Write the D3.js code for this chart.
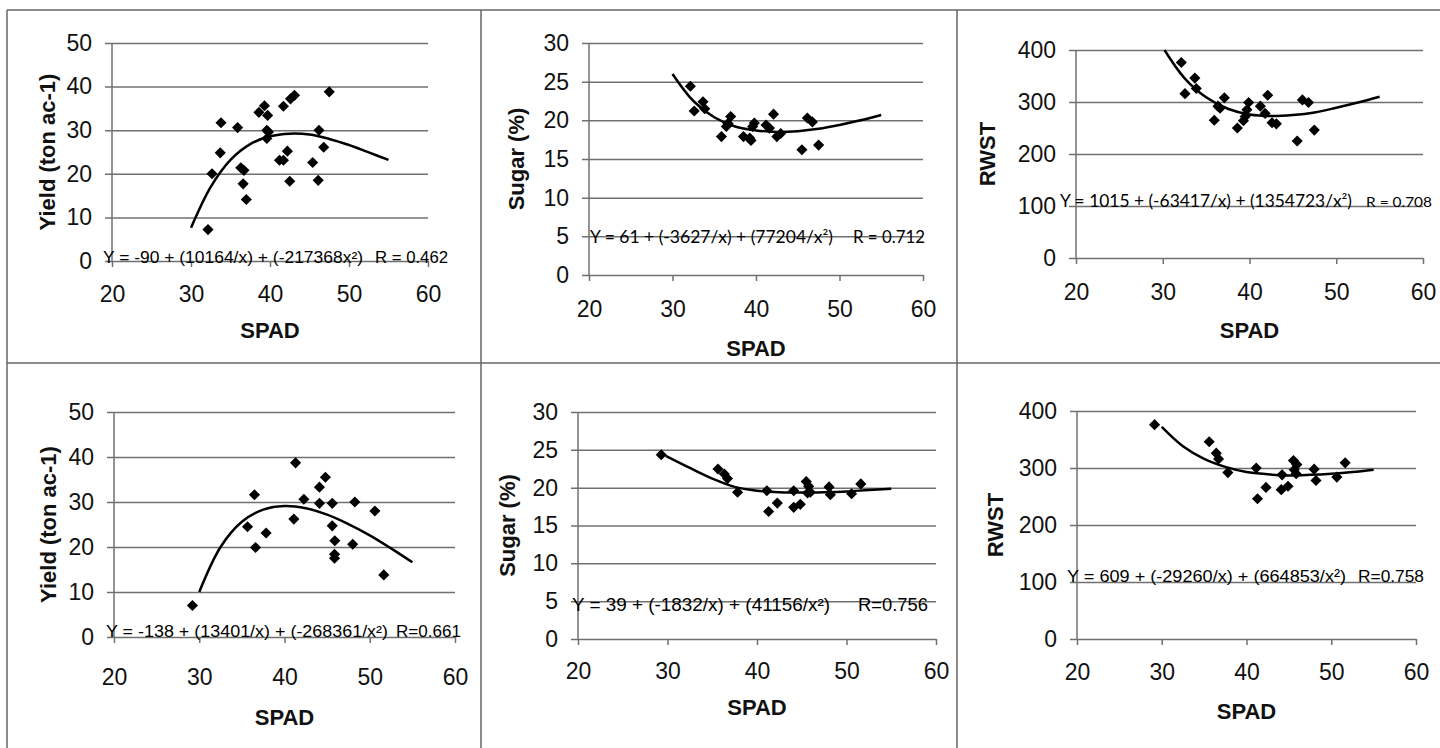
<!DOCTYPE html>
<html>
<head>
<meta charset="utf-8">
<script src="https://cdn.jsdelivr.net/npm/d3@7"></script>
<style>
  body { margin: 0; background: #fff; }
  svg { display: block; }
</style>
</head>
<body>
<script>
// ---- data ----
const xTicks = [20, 30, 40, 50, 60];
const yTitles = ["Yield (ton ac-1)", "Sugar (%)", "RWST", "Yield (ton ac-1)", "Sugar (%)", "RWST"];
const eqFormulas = [
  "Y = -90 + (10164/x) + (-217368x\u00B2)",
  "Y = 61 + (-3627/x) + (77204/x\u00B2)",
  "Y = 1015 + (-63417/x) + (1354723/x\u00B2)",
  "Y = -138 + (13401/x) + (-268361/x\u00B2)",
  "Y = 39 + (-1832/x) + (41156/x\u00B2)",
  "Y = 609 + (-29260/x) + (664853/x\u00B2)"
];
const eqR = ["R = 0.462", "R = 0.712", "R = 0.708", "R=0.661", "R=0.756", "R=0.758"];

// top row
const yieldTopSpad = [32.15, 32.66, 33.7, 33.8, 35.9, 36.3, 36.7, 36.6, 37.0, 38.6, 39.3, 39.7, 39.6, 39.8, 39.6, 41.2, 41.7, 42.2, 41.7, 42.6, 43.1, 42.5, 45.4, 46.2, 46.8, 46.1, 47.5];
const yieldTop = [7.2, 20.0, 24.8, 31.7, 30.6, 21.4, 20.8, 17.7, 14.1, 34.1, 35.6, 33.4, 30.0, 29.6, 28.1, 23.1, 23.1, 25.2, 35.5, 37.2, 38.0, 18.3, 22.6, 30.0, 26.1, 18.5, 38.8];
const sugarTopSpad = [32.14, 32.6, 33.65, 33.86, 35.86, 36.45, 36.65, 36.97, 38.5, 39.25, 39.4, 39.6, 39.8, 41.2, 41.6, 42.1, 42.5, 42.96, 45.5, 46.15, 46.75, 47.5];
const sugarTop = [24.4, 21.2, 22.4, 21.5, 17.9, 19.2, 19.6, 20.5, 17.9, 17.7, 17.4, 19.2, 19.65, 19.4, 19.0, 20.8, 17.9, 18.3, 16.2, 20.3, 19.8, 16.8];
const rwstTopSpad = [32.14, 32.56, 33.7, 33.87, 35.94, 36.37, 36.6, 37.1, 38.6, 39.3, 39.5, 39.7, 39.9, 41.25, 41.8, 42.1, 42.6, 43.1, 45.5, 46.1, 46.8, 47.47];
const rwstTop = [376, 316, 346, 326, 265, 292, 288, 308, 250, 264, 272, 285, 299, 292, 278, 313, 260, 258, 225, 304, 299, 246];

// bottom row
const yieldBotSpad = [29.2, 35.66, 36.48, 36.6, 37.84, 41.1, 41.3, 42.27, 44.1, 44.1, 44.8, 45.6, 45.6, 45.9, 45.87, 45.87, 48.0, 48.25, 50.6, 51.65];
const yieldBot = [7.0, 24.5, 31.6, 19.9, 23.1, 26.2, 38.7, 30.6, 33.3, 29.7, 35.5, 29.7, 24.7, 21.4, 18.4, 17.5, 20.6, 30.0, 28.0, 13.8];
const sugarBotSpad = [29.3, 35.64, 36.35, 36.7, 37.83, 41.1, 41.3, 42.27, 44.1, 44.1, 44.84, 45.5, 45.77, 45.96, 45.65, 48.05, 48.2, 50.57, 51.6];
const sugarBot = [24.35, 22.46, 21.8, 21.2, 19.4, 19.6, 16.85, 17.96, 19.6, 17.4, 17.8, 20.8, 20.2, 19.4, 19.3, 20.1, 19.06, 19.2, 20.5];
const rwstBotSpad = [29.15, 35.6, 36.43, 36.7, 37.8, 41.15, 41.3, 42.3, 44.2, 44.1, 44.9, 45.54, 45.94, 45.63, 45.86, 47.98, 48.2, 50.66, 51.64];
const rwstBot = [376, 346, 326, 316, 292, 300, 246, 266, 288, 262, 268, 313, 306, 297, 290, 298, 278, 284, 309];

// fitted curves
const fitSpad = [30, 32.5, 35, 37.5, 40, 42.5, 45, 47.5, 50, 52.5, 55];
const fitSpadRwstTop = [30.2, 32.5, 35, 37.5, 40, 42.5, 45, 47.5, 50, 52.5, 55];
const fitSpadSugarBot = [29.8, 32.5, 35, 37.5, 40, 42.5, 45, 47.5, 50, 52.5, 55];
const yieldTopFit = [7.6, 17.0, 23.2, 26.8, 28.6, 29.2, 29.0, 28.0, 26.6, 24.9, 23.2];
const sugarTopFit = [26.0, 22.5, 20.4, 19.2, 18.7, 18.5, 18.6, 18.9, 19.4, 20.0, 20.7];
const rwstTopFit = [400, 346, 309, 287, 276, 273, 275, 280, 289, 299, 310];
const yieldBotFit = [10.0, 20.0, 25.6, 28.3, 29.1, 28.6, 27.2, 25.1, 22.6, 19.7, 16.6];
const sugarBotFit = [24.2, 22.6, 21.2, 20.1, 19.6, 19.4, 19.35, 19.4, 19.5, 19.7, 19.85];
const rwstBotFit = [372, 338, 316, 302, 293, 289, 287, 288, 290, 293, 297];

// ---- layout ----
const arial = "'Liberation Sans', Arial, sans-serif";
const calibriLike = "Lato, 'Open Sans', sans-serif";
const gridColor = "#707070";
const borderColor = "#666";
const tickFont = 23;

const panels = [
  { spad: yieldTopSpad, vals: yieldTop, fitX: fitSpad, fit: yieldTopFit, yMax: 50, yStep: 10,
    x0: 112, x1: 428, y0: 261, yTop: 43, xPad: 19, spadY: 330, titleX: 47,
    eqFont: arial, eqSize: 16, rSize: 16, eqPos: [103, 363, 375, 448], eqBase: 263 },
  { spad: sugarTopSpad, vals: sugarTop, fitX: fitSpad, fit: sugarTopFit, yMax: 30, yStep: 5,
    x0: 589, x1: 923, y0: 275, yTop: 43, xPad: 20, spadY: 348, titleX: 516,
    eqFont: calibriLike, eqSize: 17, rSize: 17, eqPos: [590, 833, 853, 925], eqBase: 243 },
  { spad: rwstTopSpad, vals: rwstTop, fitX: fitSpadRwstTop, fit: rwstTopFit, yMax: 400, yStep: 100,
    x0: 1076, x1: 1423, y0: 258, yTop: 50, xPad: 20, spadY: 330, titleX: 987,
    eqFont: calibriLike, eqSize: 17, rSize: 14, eqPos: [1060, 1352, 1366, 1432], eqBase: 207 },
  { spad: yieldBotSpad, vals: yieldBot, fitX: fitSpad, fit: yieldBotFit, yMax: 50, yStep: 10,
    x0: 114, x1: 455, y0: 637, yTop: 412, xPad: 26, spadY: 717, titleX: 48,
    eqFont: arial, eqSize: 16, rSize: 16, eqPos: [106, 388, 396, 461], eqBase: 637 },
  { spad: sugarBotSpad, vals: sugarBot, fitX: fitSpadSugarBot, fit: sugarBotFit, yMax: 30, yStep: 5,
    x0: 578, x1: 936, y0: 639, yTop: 412, xPad: 18, spadY: 707, titleX: 507,
    eqFont: arial, eqSize: 18, rSize: 18, eqPos: [572, 830, 858, 928], eqBase: 611 },
  { spad: rwstBotSpad, vals: rwstBot, fitX: fitSpad, fit: rwstBotFit, yMax: 400, yStep: 100,
    x0: 1077, x1: 1416, y0: 639, yTop: 411, xPad: 19, spadY: 711, titleX: 995,
    eqFont: arial, eqSize: 17, rSize: 17, eqPos: [1067, 1346, 1358, 1424], eqBase: 582 }
];

const svg = d3.select("body")
  .append("svg")
  .attr("width", 1440)
  .attr("height", 748);

svg.append("rect").attr("width", 1440).attr("height", 748).attr("fill", "#fff");

// table borders
const borders = [[7, 10, 1440, 10], [7, 363, 1440, 363], [7, 10, 7, 748], [481, 10, 481, 748], [957, 10, 957, 748]];
svg.selectAll(".border")
  .data(borders)
  .join("line")
  .attr("x1", d => d[0]).attr("y1", d => d[1])
  .attr("x2", d => d[2]).attr("y2", d => d[3])
  .attr("stroke", borderColor)
  .attr("stroke-width", 1.5);

const diamond = d3.symbol().type(d3.symbolSquare).size(62);

panels.forEach((p, i) => {
  const g = svg.append("g");
  const x = d3.scaleLinear().domain([20, 60]).range([p.x0, p.x1]);
  const y = d3.scaleLinear().domain([0, p.yMax]).range([p.y0, p.yTop]);
  const yTicks = d3.range(0, p.yMax + 1, p.yStep);

  // gridlines and y labels
  g.append("g")
    .attr("transform", `translate(${p.x1},0)`)
    .call(d3.axisLeft(y).tickValues(yTicks).tickSize(p.x1 - p.x0 + 7).tickPadding(13))
    .call(a => a.select(".domain").remove())
    .call(a => a.selectAll("line").attr("stroke", gridColor).attr("stroke-width", 1.5))
    .call(a => a.selectAll("text")
      .attr("font-family", arial).attr("font-size", tickFont).attr("fill", "#111"));

  // y axis line
  g.append("line")
    .attr("x1", x(20)).attr("x2", x(20))
    .attr("y1", y(p.yMax)).attr("y2", y(0))
    .attr("stroke", gridColor)
    .attr("stroke-width", 1.5);

  // x ticks and labels
  g.append("g")
    .attr("transform", `translate(0,${p.y0})`)
    .call(d3.axisBottom(x).tickValues(xTicks).tickSize(6).tickPadding(p.xPad))
    .call(a => a.select(".domain").remove())
    .call(a => a.selectAll("line").attr("stroke", gridColor).attr("stroke-width", 1.5))
    .call(a => a.selectAll("text")
      .attr("font-family", arial).attr("font-size", tickFont).attr("fill", "#111"));

  // equation
  g.append("text")
    .attr("x", p.eqPos[0])
    .attr("y", p.eqBase)
    .attr("textLength", p.eqPos[1] - p.eqPos[0])
    .attr("lengthAdjust", "spacingAndGlyphs")
    .attr("font-family", p.eqFont)
    .attr("font-size", p.eqSize)
    .attr("fill", "#000")
    .text(eqFormulas[i]);

  g.append("text")
    .attr("x", p.eqPos[2])
    .attr("y", p.eqBase)
    .attr("textLength", p.eqPos[3] - p.eqPos[2])
    .attr("lengthAdjust", "spacingAndGlyphs")
    .attr("font-family", p.eqFont)
    .attr("font-size", p.rSize)
    .attr("fill", "#000")
    .text(eqR[i]);

  // fitted curve
  const line = d3.line()
    .x(d => x(d[0]))
    .y(d => y(d[1]))
    .curve(d3.curveCatmullRom);

  g.append("path")
    .datum(d3.zip(p.fitX, p.fit))
    .attr("d", line)
    .attr("fill", "none")
    .attr("stroke", "#000")
    .attr("stroke-width", 2.5);

  // points
  g.selectAll(".pt")
    .data(d3.zip(p.spad, p.vals))
    .join("path")
    .attr("class", "pt")
    .attr("transform", d => `translate(${x(d[0])},${y(d[1])}) rotate(45)`)
    .attr("d", diamond)
    .attr("fill", "#000");

  // axis titles
  g.append("text")
    .attr("x", (p.x0 + p.x1) / 2)
    .attr("y", p.spadY)
    .attr("dy", "0.35em")
    .attr("text-anchor", "middle")
    .attr("font-family", arial)
    .attr("font-weight", "bold")
    .attr("font-size", 22)
    .attr("fill", "#111")
    .text("SPAD");

  g.append("text")
    .attr("transform", `translate(${p.titleX},${(p.y0 + p.yTop) / 2}) rotate(-90)`)
    .attr("dy", "0.35em")
    .attr("text-anchor", "middle")
    .attr("font-family", arial)
    .attr("font-weight", "bold")
    .attr("font-size", 22)
    .attr("fill", "#111")
    .text(yTitles[i]);
});
</script>
</body>
</html>
